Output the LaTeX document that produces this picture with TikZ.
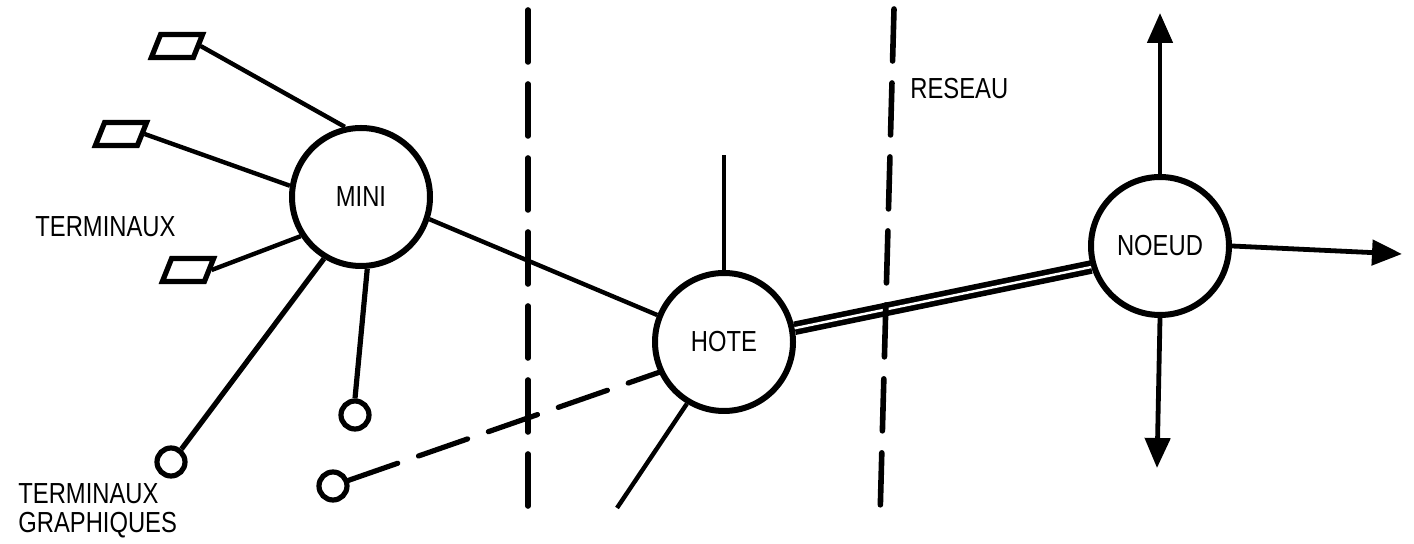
\documentclass[tikz,border=0pt]{standalone}
\usepackage{fontspec}
\setmainfont{Liberation Sans}[FakeStretch=0.82]
\usetikzlibrary{shapes}
\usetikzlibrary{arrows.meta}

\begin{document}
\begin{tikzpicture}[x=0.5pt,y=-0.5pt]
  \fontsize{14.5pt}{14.5pt}\selectfont
  \useasboundingbox (0,0) rectangle (1414,544);
  \tikzstyle{every node}=[circle,draw,line width=3pt,minimum size=69pt,inner sep=0pt]
  \node (mini)  at (361,197)  {MINI};
  \node (hote)  at (724,342)  {HOTE};
  \node (noeud) at (1160,246) {NOEUD};

%% terminals and graphic terminals
  \tikzstyle{terminal}=[rectangle,xslant=0.4,minimum width=21pt,minimum height=11.5pt,line width=2.6pt]
  \tikzstyle{graph}=[minimum size=14pt,line width=2.6pt]
  \foreach \n/\x/\y in {1/177/46, 2/121/134, 3/188/270}
    \node[terminal] (term\n) at (\x,\y) {};
  \foreach \n/\x/\y in {1/171/462, 2/355/415, 3/333/486}
    \node[graph] (graph\n) at (\x,\y) {};

%% free ends
  \coordinate (hote-top)    at (724,155);
  \coordinate (hote-bottom) at (617,508);
  \coordinate (noeud-n)     at (1160,13);
  \coordinate (noeud-e)     at (1402,254);
  \coordinate (noeud-s)     at (1157,468);
  \coordinate (front1-top)  at (528,10);
  \coordinate (front1-bot)  at (528,508);
  \coordinate (front2-top)  at (894,9);
  \coordinate (front2-bot)  at (880,518);

%% labels
  \tikzstyle{every node}=[draw=none,inner sep=0pt]
  \node[anchor=west] (lbl-term)   at (35,227) {TERMINAUX};
  \node[anchor=west,align=left] (lbl-graph) at (18,511) {TERMINAUX\\GRAPHIQUES};
  \node[anchor=west] (lbl-reseau) at (910,89) {RESEAU};

%% connections
  \tikzstyle{link}=[line width=2.2pt]
  \tikzstyle{frontier}=[line width=2.8pt,line cap=round,dash pattern=on 26pt off 11pt]
  \tikzstyle{arrow}=[line width=2.4pt,-{Triangle[length=15pt,width=12.5pt]}]
  \foreach \n/\a in {1/103, 2/171, 3/213}
    \draw[link] (term\n.east) -- (mini.\a);
  \draw[link,line width=2.6pt] (graph1.51) -- (mini.239);
  \draw[link,line width=2.6pt] (graph2.90) -- (mini.275);
  \draw[link] (mini.342) -- (hote.158);
  \draw[link] (hote.90) -- (hote-top);
  \draw[link] (hote.239) -- (hote-bottom);
  \draw[frontier,line width=2.6pt] (graph3.20) -- (hote.205);
  \draw[line width=2.8pt,double,double distance=1.2pt] (hote.11) -- (noeud.197);
  \draw[arrow] (noeud.90)  -- (noeud-n);
  \draw[arrow] (noeud.0)   -- (noeud-e);
  \draw[arrow] (noeud.270) -- (noeud-s);

%% network frontiers
  \draw[frontier] (front1-top) -- (front1-bot);
  \draw[frontier] (front2-top) -- (front2-bot);
\end{tikzpicture}
\end{document}
